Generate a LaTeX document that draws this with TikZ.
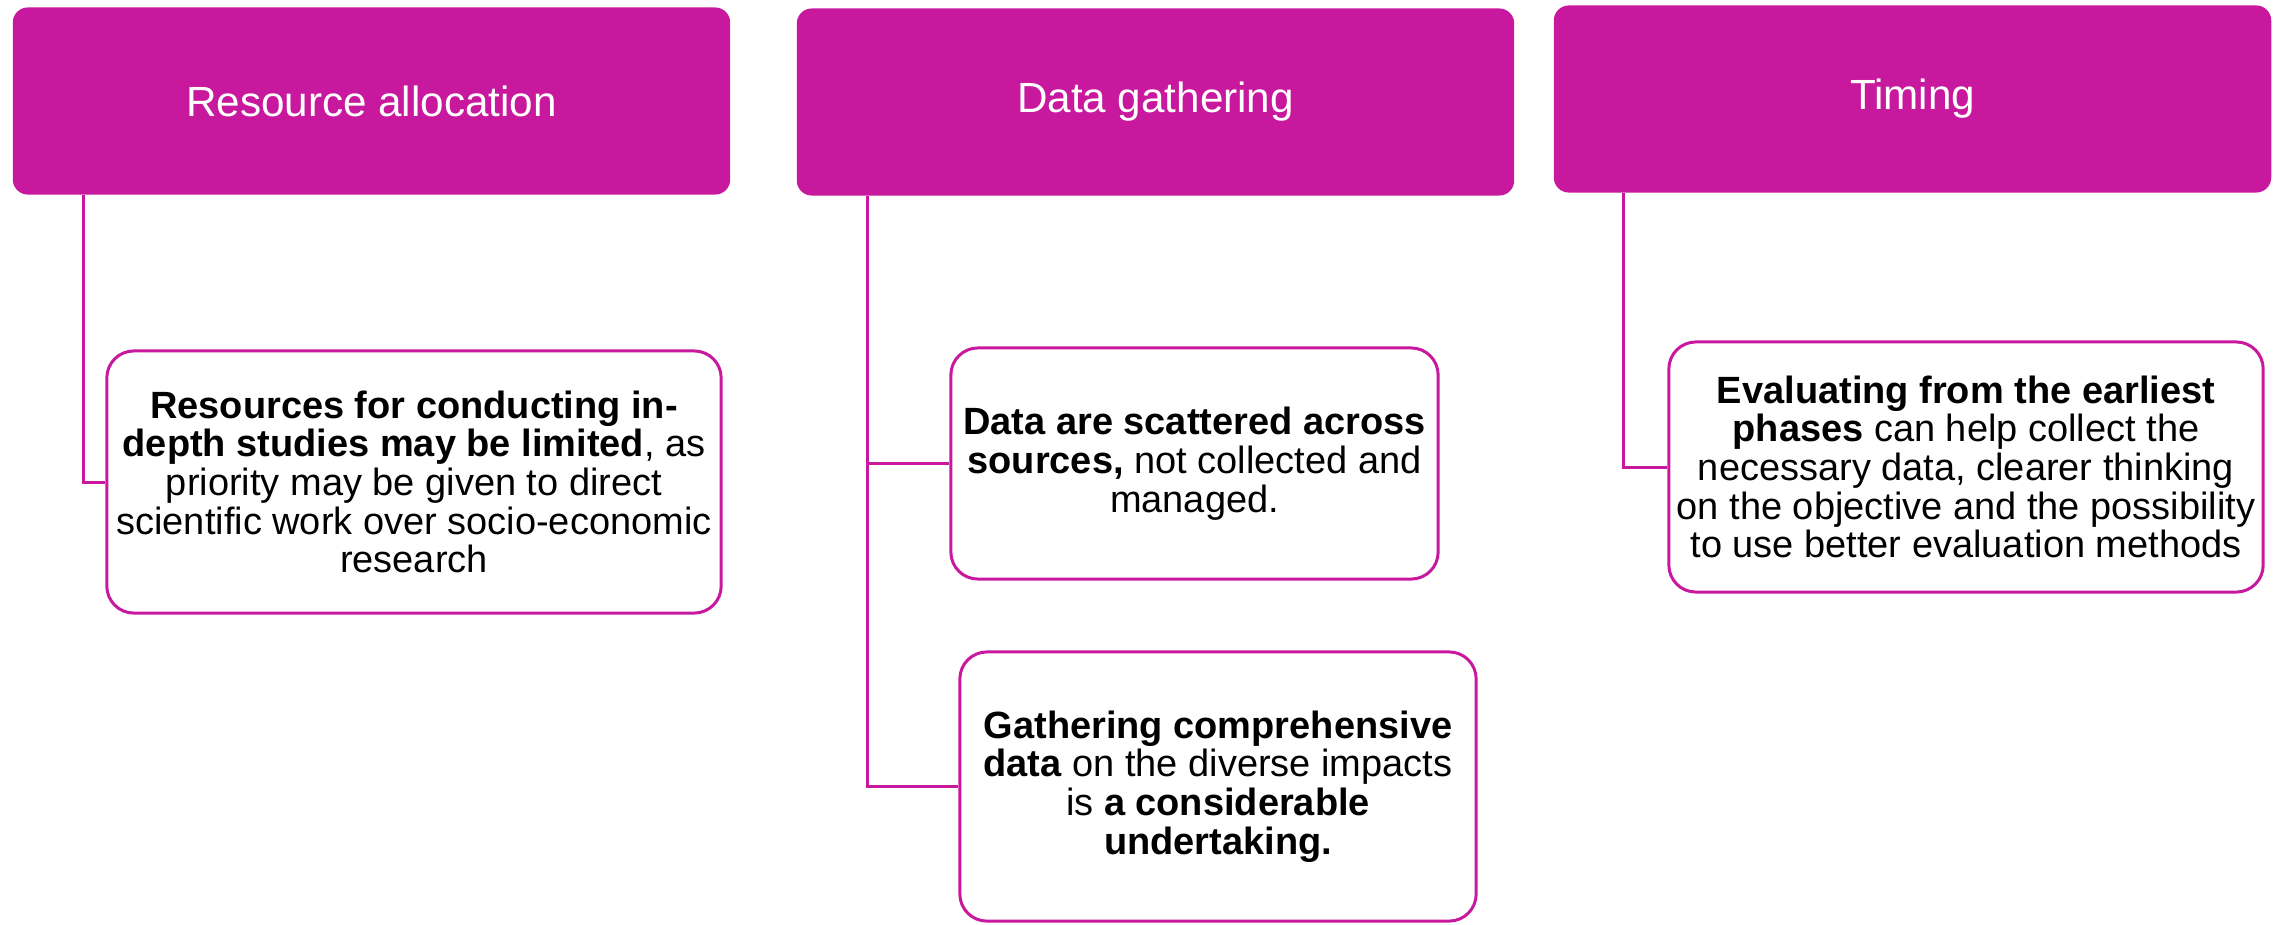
\documentclass[tikz,border=0pt]{standalone}
\usepackage{fontspec}
\setmainfont{Liberation Sans}
\definecolor{berry}{HTML}{C8199E}
\begin{document}
\begin{tikzpicture}[x=0.01cm, y=-0.01cm,
	head/.style={rounded corners=0.15cm, fill=berry, text=white, minimum width=7.17cm, minimum height=1.87cm, inner sep=0pt, font=\fontsize{12}{14}\selectfont},
	leaf/.style={rounded corners=0.27cm, draw=berry, line width=0.85pt, fill=white, inner sep=0pt, align=center, font=\fontsize{10.8}{11}\selectfont},
	link/.style={draw=berry, line width=0.85pt}]
	\useasboundingbox (0,0) rectangle (2280,924);
	\node (Resources) at (371.5,101) [head] {Resource allocation};
	\node (Data) at (1155.5,102) [head] {Data gathering};
	\node (Timing) at (1912.5,99) [head] {Timing};
	\node (Limited) at (414,482) [leaf, minimum width=6.14cm, minimum height=2.62cm] {\textbf{Resources for conducting in-}\\\textbf{depth studies may be limited}, as\\priority may be given to direct\\scientific work over socio-economic\\research};
	\node (Scattered) at (1194.5,463.5) [leaf, minimum width=4.87cm, minimum height=2.31cm] {\textbf{Data are scattered across}\\\textbf{sources,} not collected and\\managed.};
	\node (Gathering) at (1218,786.5) [leaf, minimum width=5.16cm, minimum height=2.69cm] {\textbf{Gathering comprehensive}\\\textbf{data} on the diverse impacts\\is \textbf{a considerable}\\\textbf{undertaking.}};
	\node (Early) at (1966,467) [leaf, minimum width=5.94cm, minimum height=2.5cm] {\textbf{Evaluating from the earliest}\\\textbf{phases} can help collect the\\necessary data, clearer thinking\\on the objective and the possibility\\to use better evaluation methods};
	\draw[link] ([xshift=0.71cm]Resources.south west) |- (Limited.west);
	\draw[link] ([xshift=0.71cm]Data.south west) |- (Scattered.west);
	\draw[link] ([xshift=0.71cm]Data.south west) |- (Gathering.west);
	\draw[link] ([xshift=0.70cm]Timing.south west) |- (Early.west);
\end{tikzpicture}
\end{document}
